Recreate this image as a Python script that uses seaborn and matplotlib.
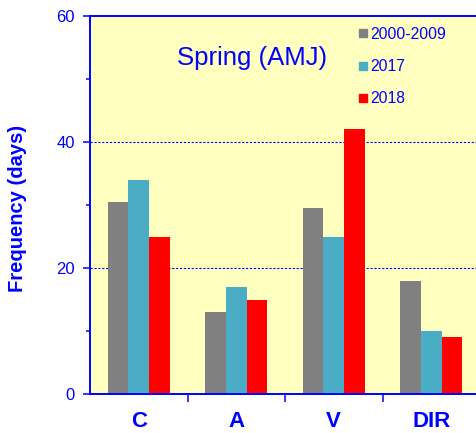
import pandas as pd
import numpy as np
import matplotlib
matplotlib.use("Agg")
import matplotlib.pyplot as plt
from matplotlib.lines import Line2D
from matplotlib.ticker import MultipleLocator, FixedLocator
import seaborn as sns

# Dados
categorias = ["C", "A", "V", "DIR"]
periodos = ["2000-2009", "2017", "2018"]
valores_2000_2009 = [30.5, 13, 29.5, 18]
valores_2017 = [34, 17, 25, 10]
valores_2018 = [25, 15, 42, 9]

cores = {"2000-2009": "#808080", "2017": "#4BACC6", "2018": "#FF0000"}
azul = "#0000FF"

dados = pd.DataFrame(
    {
        "categoria": categorias * 3,
        "periodo": np.repeat(periodos, len(categorias)),
        "dias": valores_2000_2009 + valores_2017 + valores_2018,
    }
)

sns.set_style("ticks")
plt.rcParams["font.family"] = ["Liberation Sans", "DejaVu Sans"]

fig = plt.figure(figsize=(4.77, 4.33), dpi=100)
ax = fig.add_axes([0.1887, 0.090, 0.8176, 0.873])
ax.set_facecolor("#FFFFC0")

sns.barplot(
    data=dados,
    x="categoria",
    y="dias",
    hue="periodo",
    hue_order=periodos,
    order=categorias,
    palette=cores,
    width=0.64,
    gap=0,
    linewidth=0,
    saturation=1,
    legend=False,
    ax=ax,
)

ax.set_xlim(-0.5, 3.5)
ax.set_ylim(0, 60)

# Eixo y
ax.yaxis.set_major_locator(MultipleLocator(20))
ax.yaxis.set_minor_locator(MultipleLocator(10))
ax.tick_params(axis="y", which="major", length=5, width=1.1, color=azul,
               labelcolor=azul, labelsize=12, pad=6)
ax.tick_params(axis="y", which="minor", length=3, width=1.1, color=azul)

# Eixo x: marcas nos limites das categorias
ax.xaxis.set_minor_locator(FixedLocator([0.5, 1.5, 2.5]))
ax.tick_params(axis="x", which="major", length=0, labelcolor=azul,
               labelsize=16, pad=12.5)
ax.tick_params(axis="x", which="minor", length=6, width=1.1, color=azul)
for rotulo in ax.get_xticklabels():
    rotulo.set_fontweight("bold")

for lado in ["left", "bottom", "top", "right"]:
    ax.spines[lado].set_color(azul)
    ax.spines[lado].set_linewidth(1.4)

# Linhas de grade tracejadas
for y in [20, 40]:
    ax.axhline(y, color=azul, linewidth=0.8, linestyle=(0, (2, 1.5)), zorder=0.5)

ax.set_xlabel("")
ax.set_ylabel("Frequency (days)", color=azul, fontsize=14.5, fontweight="bold")
ax.yaxis.set_label_coords(-0.161, 0.492)

ax.text(0.415, 0.889, "Spring (AMJ)", transform=ax.transAxes, color=azul,
        fontsize=18.5, ha="center", va="center")

marcadores = [
    Line2D([], [], marker="s", linestyle="", markersize=5.5, color=cores[p])
    for p in periodos
]
ax.legend(
    marcadores,
    periodos,
    loc="upper left",
    bbox_to_anchor=(0.667, 0.992),
    frameon=False,
    borderpad=0,
    handlelength=0.6,
    handletextpad=0.2,
    labelspacing=1.1,
    fontsize=11.3,
    labelcolor=azul,
)

fig.savefig("out.png", dpi=100)
